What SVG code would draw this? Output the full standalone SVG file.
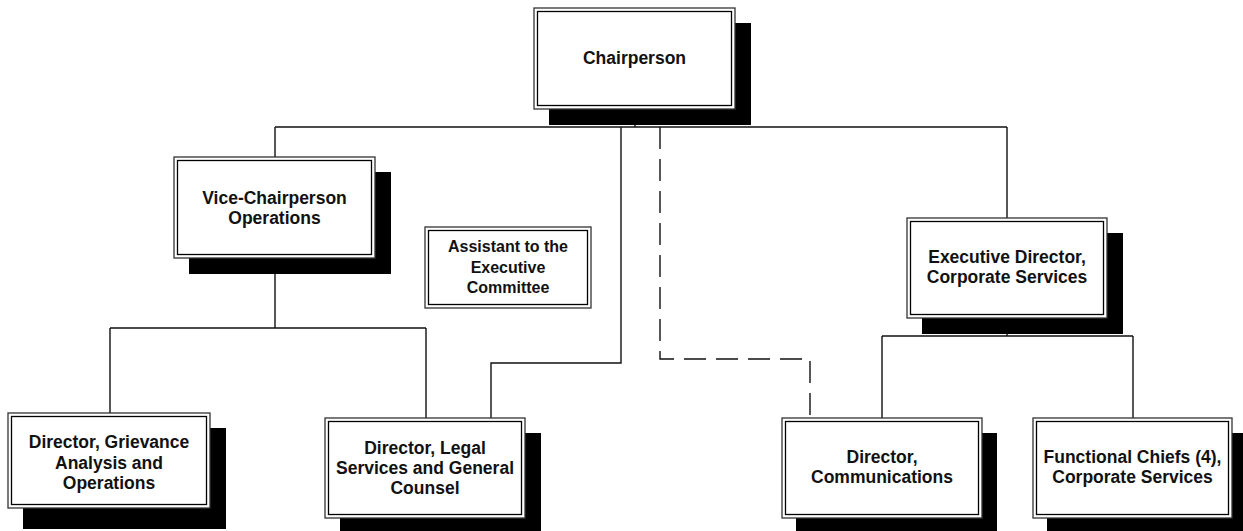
<svg xmlns="http://www.w3.org/2000/svg" width="1243" height="531" viewBox="0 0 1243 531">
<style>
.shadow{fill:#000}
.outer{fill:#fff;stroke:#333;stroke-width:1.3}
.inner{fill:none;stroke:#000;stroke-width:1.3}
.lbl{font-family:"Liberation Sans",Arial,sans-serif;font-weight:bold;font-size:17.5px;fill:#111;text-anchor:middle}
.sm{font-size:16px}
.conn{fill:none;stroke:#111;stroke-width:1.4}
.dash{stroke-dasharray:22 10}
</style>
<rect width="1243" height="531" fill="#fff"/>
<g id="connectors">
<path class="conn" d="M635 109V127M275 127H1007M275 127V157M1007 127V218"/>
<path class="conn" d="M275 258V328M110 328H426M110 328V413M426 328V418"/>
<path class="conn" d="M621 127V363H491V418"/>
<path class="conn dash" d="M660 127V359H810V418"/>
<path class="conn" d="M1007 318V336M882 336H1133M882 336V418M1133 336V418"/>
</g>
<g id="chairperson">
<rect class="shadow" x="549" y="23" width="202" height="102"/>
<rect class="outer" x="534" y="8" width="201" height="101"/>
<rect class="inner" x="537.5" y="11.5" width="194" height="94"/>
<text class="lbl" x="634.5" y="64">Chairperson</text>
</g>
<g id="vice-chairperson">
<rect class="shadow" x="189" y="172" width="202" height="102"/>
<rect class="outer" x="174" y="157" width="201" height="101"/>
<rect class="inner" x="177.5" y="160.5" width="194" height="94"/>
<text class="lbl" x="274.5" y="203.5">Vice-Chairperson</text>
<text class="lbl" x="274.5" y="223.5">Operations</text>
</g>
<g id="assistant">
<rect class="outer" x="425" y="227" width="166" height="81"/>
<rect class="inner" x="428.5" y="230.5" width="159" height="74"/>
<text class="lbl sm" x="508" y="252">Assistant to the</text>
<text class="lbl sm" x="508" y="272.5">Executive</text>
<text class="lbl sm" x="508" y="293">Committee</text>
</g>
<g id="executive-director">
<rect class="shadow" x="922" y="233" width="201" height="101"/>
<rect class="outer" x="907" y="218" width="200" height="100"/>
<rect class="inner" x="910.5" y="221.5" width="193" height="93"/>
<text class="lbl" x="1007" y="262.5">Executive Director,</text>
<text class="lbl" x="1007" y="282.5">Corporate Services</text>
</g>
<g id="director-grievance">
<rect class="shadow" x="23" y="428" width="203" height="101"/>
<rect class="outer" x="8" y="413" width="202" height="95"/>
<rect class="inner" x="11.5" y="416.5" width="195" height="88"/>
<text class="lbl" x="109" y="448">Director, Grievance</text>
<text class="lbl" x="109" y="468.5">Analysis and</text>
<text class="lbl" x="109" y="489">Operations</text>
</g>
<g id="director-legal">
<rect class="shadow" x="340" y="433" width="201" height="101"/>
<rect class="outer" x="325" y="418" width="200" height="100"/>
<rect class="inner" x="328.5" y="421.5" width="193" height="93"/>
<text class="lbl" x="425" y="454">Director, Legal</text>
<text class="lbl" x="425" y="474">Services and General</text>
<text class="lbl" x="425" y="494">Counsel</text>
</g>
<g id="director-communications">
<rect class="shadow" x="796" y="433" width="201" height="101"/>
<rect class="outer" x="782" y="418" width="200" height="100"/>
<rect class="inner" x="785.5" y="421.5" width="193" height="93"/>
<text class="lbl" x="882" y="463">Director,</text>
<text class="lbl" x="882" y="483">Communications</text>
</g>
<g id="functional-chiefs">
<rect class="shadow" x="1047" y="433" width="201" height="101"/>
<rect class="outer" x="1033" y="418" width="199" height="100"/>
<rect class="inner" x="1036.5" y="421.5" width="192" height="93"/>
<text class="lbl" x="1132.5" y="463">Functional Chiefs (4),</text>
<text class="lbl" x="1132.5" y="483">Corporate Services</text>
</g>
</svg>
